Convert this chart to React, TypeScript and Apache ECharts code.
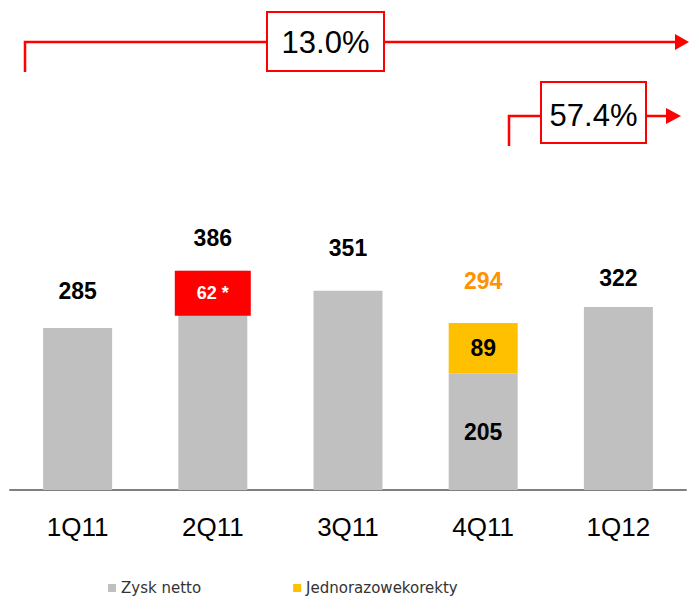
import React, { useEffect, useRef } from "react";
import * as echarts from "echarts";

const categories = ["1Q11", "2Q11", "3Q11", "4Q11", "1Q12"];
const netProfit = [285, 386, 351, 205, 322];
const oneOffs: (number | null)[] = [null, null, null, 89, null];
const totals = [285, 386, 351, 294, 322];
const adjustmentLabel = "62 *";
const growthLong = "13.0%";
const growthShort = "57.4%";
const seriesNames = ["Zysk netto", "Jednorazowekorekty"];

const FONT = 'Arial, "Liberation Sans", sans-serif';

export default function App() {
  const ref = useRef<HTMLDivElement>(null);
  useEffect(() => {
    if (!ref.current) return;
    const chart = echarts.init(ref.current, null, { renderer: "svg" });
    const totalDistances = [26, 21, 31, 31, 18];
    const option: any = {
      animation: false,
      backgroundColor: "#ffffff",
      grid: { left: 10, right: 3, top: 206, bottom: 110, containLabel: false },
      xAxis: {
        type: "category",
        data: categories,
        axisLine: { show: true, lineStyle: { color: "#808080", width: 2 } },
        axisTick: { show: false },
        axisLabel: { color: "#000", fontSize: 26, fontFamily: FONT, margin: 24 },
      },
      yAxis: { type: "value", min: 0, max: 500, show: false, splitLine: { show: false } },
      legend: {
        data: seriesNames,
        left: 108,
        top: 580,
        padding: 0,
        itemWidth: 8,
        itemHeight: 8,
        itemGap: 92,
        icon: "rect",
        textStyle: { fontFamily: '"DejaVu Sans", sans-serif', fontSize: 15, color: "#333", lineHeight: 16 },
      },
      series: [
        {
          name: seriesNames[0],
          type: "bar",
          stack: "a",
          barWidth: 69,
          itemStyle: { color: "#C0C0C0" },
          data: netProfit.map((v, i) => {
            if (i === 1) {
              return {
                value: v,
                label: {
                  show: true,
                  position: "insideTop",
                  distance: 0,
                  formatter: adjustmentLabel,
                  backgroundColor: "#FF0000",
                  color: "#fff",
                  fontWeight: "bold",
                  fontSize: 18,
                  fontFamily: FONT,
                  width: 76,
                  height: 45,
                  lineHeight: 45,
                  align: "center",
                  padding: 0,
                },
              };
            }
            if (i === 3) {
              return {
                value: v,
                label: {
                  show: true,
                  position: "inside",
                  color: "#000",
                  fontWeight: "bold",
                  fontSize: 23,
                  fontFamily: FONT,
                },
              };
            }
            return v;
          }),
        },
        {
          name: seriesNames[1],
          type: "bar",
          stack: "a",
          barWidth: 69,
          itemStyle: { color: "#FFC000" },
          label: {
            show: true,
            position: "inside",
            color: "#000",
            fontWeight: "bold",
            fontSize: 23,
            fontFamily: FONT,
          },
          data: oneOffs,
        },
        {
          name: "totals",
          type: "scatter",
          symbolSize: 0,
          silent: true,
          itemStyle: { opacity: 1 },
          data: totals.map((v, i) => ({
            value: v,
            label: {
              show: true,
              position: "top",
              distance: totalDistances[i],
              color: i === 3 ? "#FF9200" : "#000",
              opacity: 1,
              fontWeight: "bold",
              fontSize: 23,
              fontFamily: FONT,
            },
          })),
        },
      ],
      graphic: [
        {
          type: "polyline",
          shape: { points: [[25, 72], [25, 42], [676, 42]] },
          style: { stroke: "#FF0000", lineWidth: 2.5, fill: null },
        },
        {
          type: "polygon",
          shape: { points: [[675, 34], [689, 42], [675, 50]] },
          style: { fill: "#FF0000" },
        },
        {
          type: "rect",
          shape: { x: 267, y: 12, width: 117, height: 59 },
          style: { fill: "#fff", stroke: "#FF0000", lineWidth: 2 },
        },
        {
          type: "text",
          x: 325.5,
          y: 42,
          style: {
            text: growthLong,
            fill: "#000",
            font: `31px ${FONT}`,
            textAlign: "center",
            textVerticalAlign: "middle",
          },
        },
        {
          type: "polyline",
          shape: { points: [[509, 146], [509, 116], [667, 116]] },
          style: { stroke: "#FF0000", lineWidth: 2.5, fill: null },
        },
        {
          type: "polygon",
          shape: { points: [[666, 108], [681, 116], [666, 124]] },
          style: { fill: "#FF0000" },
        },
        {
          type: "rect",
          shape: { x: 541, y: 82, width: 105, height: 61 },
          style: { fill: "#fff", stroke: "#FF0000", lineWidth: 2 },
        },
        {
          type: "text",
          x: 593.5,
          y: 115,
          style: {
            text: growthShort,
            fill: "#000",
            font: `31px ${FONT}`,
            textAlign: "center",
            textVerticalAlign: "middle",
          },
        },
      ],
    };
    chart.setOption(option);
    return () => chart.dispose();
  }, []);
  return (
    <div
      ref={ref}
      style={{ position: "fixed", left: 0, top: 0, width: 689, height: 600, background: "#fff" }}
    />
  );
}
